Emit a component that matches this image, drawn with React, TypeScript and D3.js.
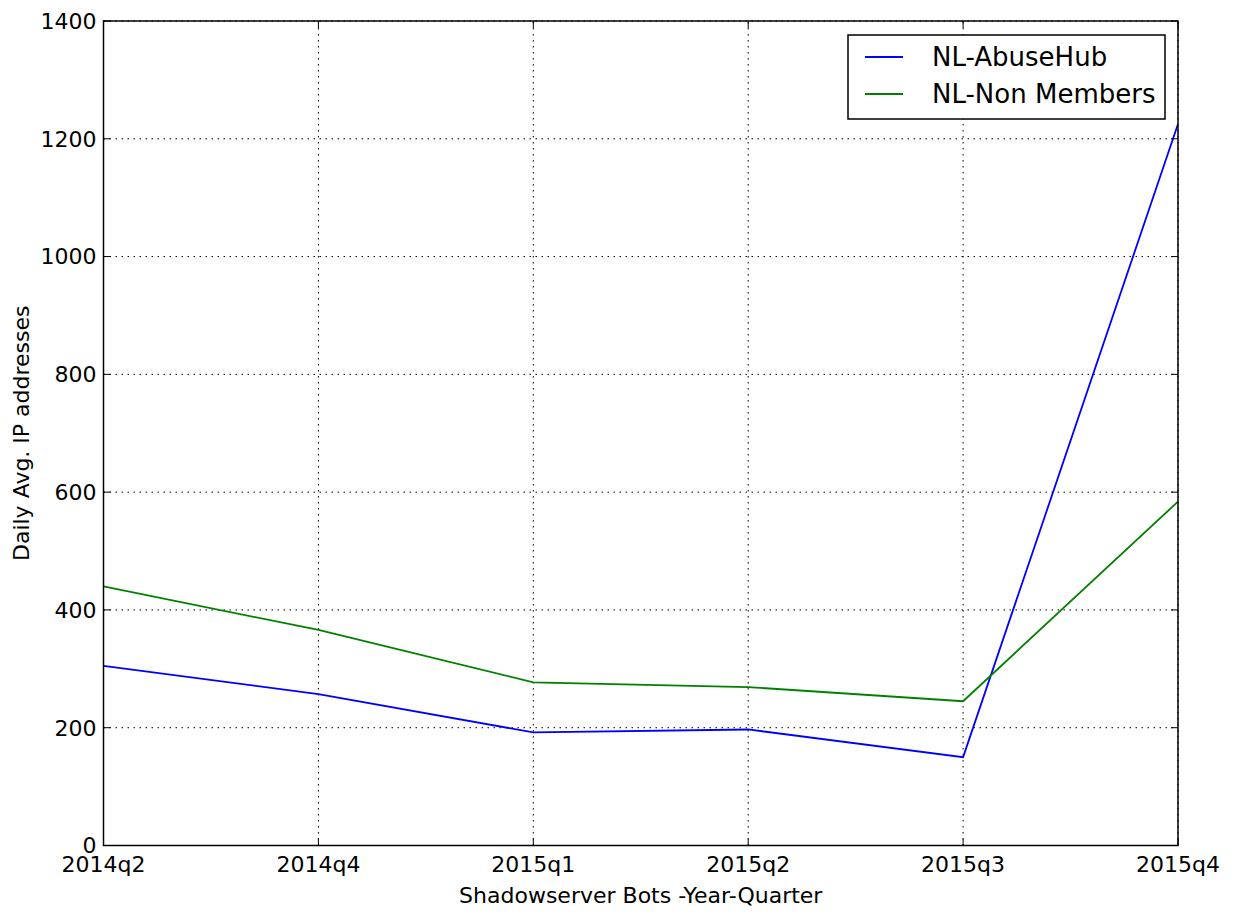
import React, { useEffect, useRef } from 'react';
import * as d3 from 'd3';

const quarters = ['2014q2', '2014q4', '2015q1', '2015q2', '2015q3', '2015q4'];
const abuseHub = [305, 257, 192, 197, 150, 1225];
const nonMembers = [440, 366, 277, 269, 245, 584];
const yTicks = [0, 200, 400, 600, 800, 1000, 1200, 1400];

const seriesList = [
  { name: 'NL-AbuseHub', values: abuseHub, color: '#0000ff' },
  { name: 'NL-Non Members', values: nonMembers, color: '#008000' },
];

export default function App() {
  const svgRef = useRef<SVGSVGElement>(null);

  useEffect(() => {
    if (!svgRef.current) return;
    const width = 1234;
    const height = 913;
    const margin = { left: 103.5, right: 56, top: 21, bottom: 67.5 };
    const font = 'DejaVu Sans, sans-serif';
    const fs = 22;

    d3.select(svgRef.current).selectAll('*').remove();
    const svg = d3.select(svgRef.current).attr('width', width).attr('height', height);

    const x = d3.scalePoint<string>()
      .domain(quarters)
      .range([margin.left, width - margin.right]);
    const y = d3.scaleLinear()
      .domain([0, 1400])
      .range([height - margin.bottom, margin.top]);

    const x0 = margin.left, x1 = width - margin.right;
    const y0 = height - margin.bottom, y1 = margin.top;

    // grid
    const grid = svg.append('g').attr('stroke', '#000').attr('stroke-width', 1)
      .attr('stroke-dasharray', '1.5,4.5');
    quarters.forEach(q => {
      grid.append('line').attr('x1', x(q)!).attr('x2', x(q)!).attr('y1', y0).attr('y2', y1);
    });
    yTicks.forEach(t => {
      grid.append('line').attr('x1', x0).attr('x2', x1).attr('y1', y(t)).attr('y2', y(t));
    });

    // lines
    svg.append('clipPath').attr('id', 'plotclip')
      .append('rect').attr('x', x0).attr('y', y1).attr('width', x1 - x0).attr('height', y0 - y1);
    seriesList.forEach(s => {
      const line = d3.line<number>()
        .x((_, i) => x(quarters[i])!)
        .y(d => y(d));
      svg.append('path')
        .datum(s.values)
        .attr('d', line)
        .attr('fill', 'none')
        .attr('stroke', s.color)
        .attr('stroke-width', 1.8)
        .attr('clip-path', 'url(#plotclip)');
    });

    // ticks (inside, all sides)
    const tk = svg.append('g').attr('stroke', '#000').attr('stroke-width', 1);
    const tl = 7;
    quarters.forEach(q => {
      tk.append('line').attr('x1', x(q)!).attr('x2', x(q)!).attr('y1', y0).attr('y2', y0 - tl);
      tk.append('line').attr('x1', x(q)!).attr('x2', x(q)!).attr('y1', y1).attr('y2', y1 + tl);
    });
    yTicks.forEach(t => {
      tk.append('line').attr('x1', x0).attr('x2', x0 + tl).attr('y1', y(t)).attr('y2', y(t));
      tk.append('line').attr('x1', x1).attr('x2', x1 - tl).attr('y1', y(t)).attr('y2', y(t));
    });

    // frame
    svg.append('rect').attr('x', x0).attr('y', y1).attr('width', x1 - x0).attr('height', y0 - y1)
      .attr('fill', 'none').attr('stroke', '#000').attr('stroke-width', 1.5);

    // tick labels
    quarters.forEach(q => {
      svg.append('text').attr('x', x(q)!).attr('y', 872)
        .attr('text-anchor', 'middle').attr('font-family', font).attr('font-size', fs)
        .attr('fill', '#000').text(q);
    });
    yTicks.forEach(t => {
      svg.append('text').attr('x', x0 - 7).attr('y', y(t)).attr('dy', '0.36em')
        .attr('text-anchor', 'end').attr('font-family', font).attr('font-size', fs)
        .attr('fill', '#000').text(t);
    });

    // axis labels
    svg.append('text').attr('x', (x0 + x1) / 2).attr('y', 903)
      .attr('text-anchor', 'middle').attr('font-family', font).attr('font-size', fs)
      .attr('fill', '#000').text('Shadowserver Bots -Year-Quarter');
    svg.append('text')
      .attr('transform', `translate(29,${(y0 + y1) / 2}) rotate(-90)`)
      .attr('text-anchor', 'middle').attr('font-family', font).attr('font-size', fs)
      .attr('fill', '#000').text('Daily Avg. IP addresses');

    // legend
    const lg = svg.append('g');
    lg.append('rect').attr('x', 848).attr('y', 35).attr('width', 317).attr('height', 84)
      .attr('fill', '#fff').attr('stroke', '#000').attr('stroke-width', 1.5);
    seriesList.forEach((s, i) => {
      const cy = 57 + i * 37;
      lg.append('line').attr('x1', 865).attr('x2', 903).attr('y1', cy).attr('y2', cy)
        .attr('stroke', s.color).attr('stroke-width', 1.8);
      lg.append('text').attr('x', 932).attr('y', cy).attr('dy', '0.36em')
        .attr('font-family', font).attr('font-size', 26).attr('fill', '#000').text(s.name);
    });
  }, []);

  return <svg ref={svgRef} style={{ position: 'absolute', left: 0, top: 0 }} />;
}
